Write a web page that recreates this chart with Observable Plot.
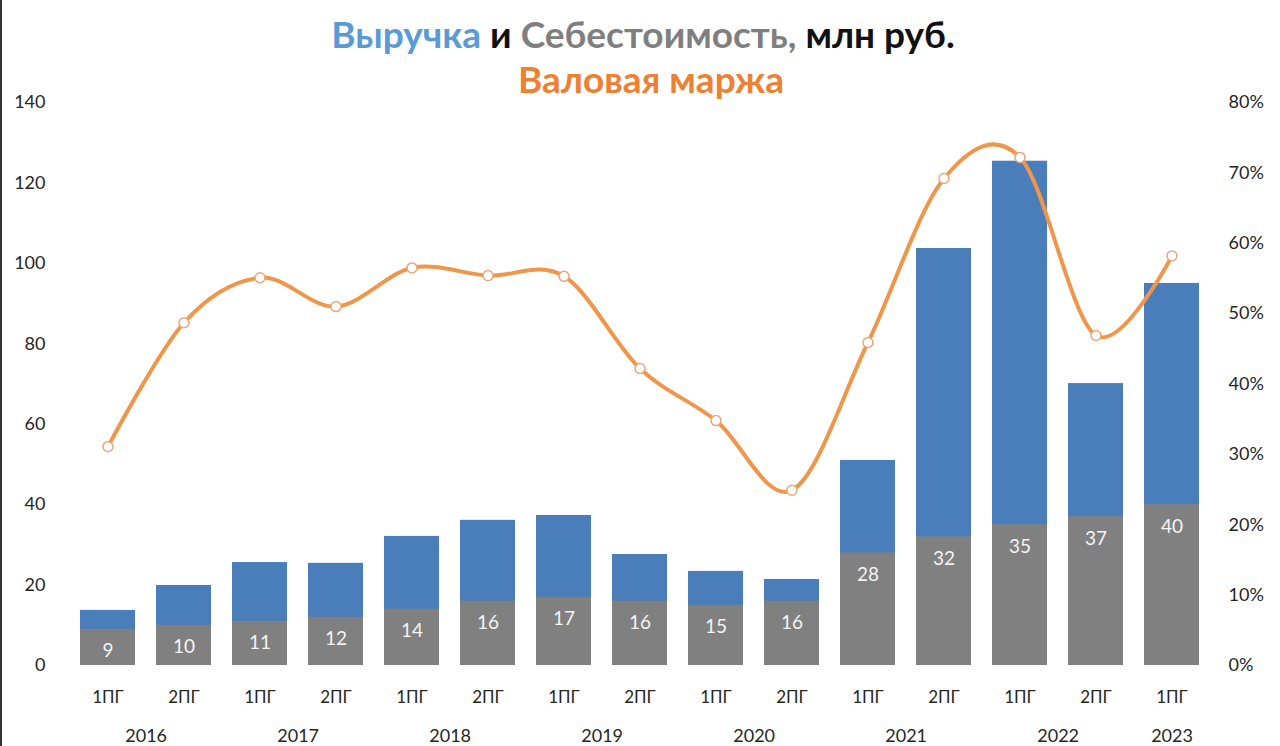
<!DOCTYPE html>
<html>
<head>
<meta charset="utf-8">
<script src="https://cdn.jsdelivr.net/npm/d3@7"></script>
<script src="https://cdn.jsdelivr.net/npm/@observablehq/plot@0.6"></script>
<style>
  html, body { margin: 0; padding: 0; background: #fff; }
  #wrap { position: relative; width: 1280px; height: 746px; overflow: hidden; font-family: Lato, "Open Sans", sans-serif; background: #fff; }
  #edge { position: absolute; left: 0; top: 0; width: 2px; height: 746px; background: #333; }
  #t1 { position: absolute; left: 0; width: 1286px; top: 15px; height: 38px; line-height: 38px; text-align: center; font-size: 37px; font-weight: 700; color: #111; }
  #t2 { position: absolute; left: 0; width: 1302px; top: 61px; height: 36px; line-height: 36px; text-align: center; font-size: 37px; font-weight: 700; color: #EE8031; }
  #chart { position: absolute; left: 0; top: 80px; }
</style>
</head>
<body>
<div id="wrap">
  <div id="chart"></div>
  <div id="t1"><span style="color:#5B9BD5">Выручка</span> и <span style="color:#7F7F7F">Себестоимость,</span> млн руб.</div>
  <div id="t2">Валовая маржа</div>
  <div id="edge"></div>
</div>
<script>
const periods = ["2016 1ПГ","2016 2ПГ","2017 1ПГ","2017 2ПГ","2018 1ПГ","2018 2ПГ","2019 1ПГ","2019 2ПГ","2020 1ПГ","2020 2ПГ","2021 1ПГ","2021 2ПГ","2022 1ПГ","2022 2ПГ","2023 1ПГ"];
const revenue = [13.7, 19.9, 25.6, 25.4, 32.1, 36.1, 37.3, 27.6, 23.4, 21.4, 51.0, 103.7, 125.4, 70.1, 95.0];
const cost = [9, 10, 11, 12, 14, 16, 17, 16, 15, 16, 28, 32, 35, 37, 40];
const margin = [31.1, 48.7, 55.1, 51.0, 56.5, 55.4, 55.3, 42.2, 34.8, 24.9, 45.9, 69.2, 72.2, 46.9, 58.2];
const leftTicks = [0, 20, 40, 60, 80, 100, 120, 140];
const rightTicks = [0, 10, 20, 30, 40, 50, 60, 70, 80];
const years = ["2016","2017","2018","2019","2020","2021","2022","2023"];

const yMax = 140, pMax = 80;
const toY = p => p * yMax / pMax;

const data = periods.map((p, i) => ({period: p, revenue: revenue[i], cost: cost[i], margin: margin[i]}));

const width = 1280, height = 666;
const ml = 68, mr = 70, mt = 22, mb = 81;
const pIn = 0.28, pOut = 0.125;
const step = (width - ml - mr) / (periods.length - pIn + 2 * pOut);

const yearData = years.map(y => {
  const ps = periods.filter(p => p.startsWith(y));
  return {year: y, first: ps[0], count: ps.length};
});

const font = "Lato, 'Open Sans', sans-serif";

const plot = Plot.plot({
  width, height,
  marginLeft: ml, marginRight: mr, marginTop: mt, marginBottom: mb,
  style: {fontSize: "18px", fontFamily: font, color: "#262626", background: "none", overflow: "visible"},
  x: {domain: periods, paddingInner: pIn, paddingOuter: pOut, axis: null},
  y: {domain: [0, yMax], axis: null},
  marks: [
    Plot.barY(data, {x: "period", y: "revenue", fill: "#4A7EBB"}),
    Plot.barY(data, {x: "period", y: "cost", fill: "#808080"}),
    Plot.text(data, {x: "period", y: "cost", text: d => String(d.cost), dy: 22, fill: "#F4F4F4", fontSize: 19}),
    Plot.axisY(leftTicks, {anchor: "left", tickSize: 0, tickPadding: 23, fontSize: 18}),
    Plot.axisY(rightTicks.map(toY), {anchor: "right", tickSize: 0, tickPadding: 18, fontSize: 18, tickFormat: d => Math.round(d * pMax / yMax) + "%"}),
    Plot.axisX(periods, {tickSize: 0, tickPadding: 25, fontSize: 17, tickFormat: d => d.split(" ")[1]}),
    Plot.text(yearData.filter(d => d.count === 2), {x: "first", text: "year", frameAnchor: "bottom", dy: 76, dx: step / 2, fontSize: 18}),
    Plot.text(yearData.filter(d => d.count === 1), {x: "first", text: "year", frameAnchor: "bottom", dy: 76, fontSize: 18}),
    Plot.line(data, {x: "period", y: d => toY(d.margin), stroke: "#F0964A", strokeWidth: 4, curve: "cardinal"}),
    Plot.dot(data, {x: "period", y: d => toY(d.margin), r: 5, fill: "#fff", stroke: "#E9A77A", strokeWidth: 1.5})
  ]
});
document.getElementById("chart").appendChild(plot);
</script>
</body>
</html>
